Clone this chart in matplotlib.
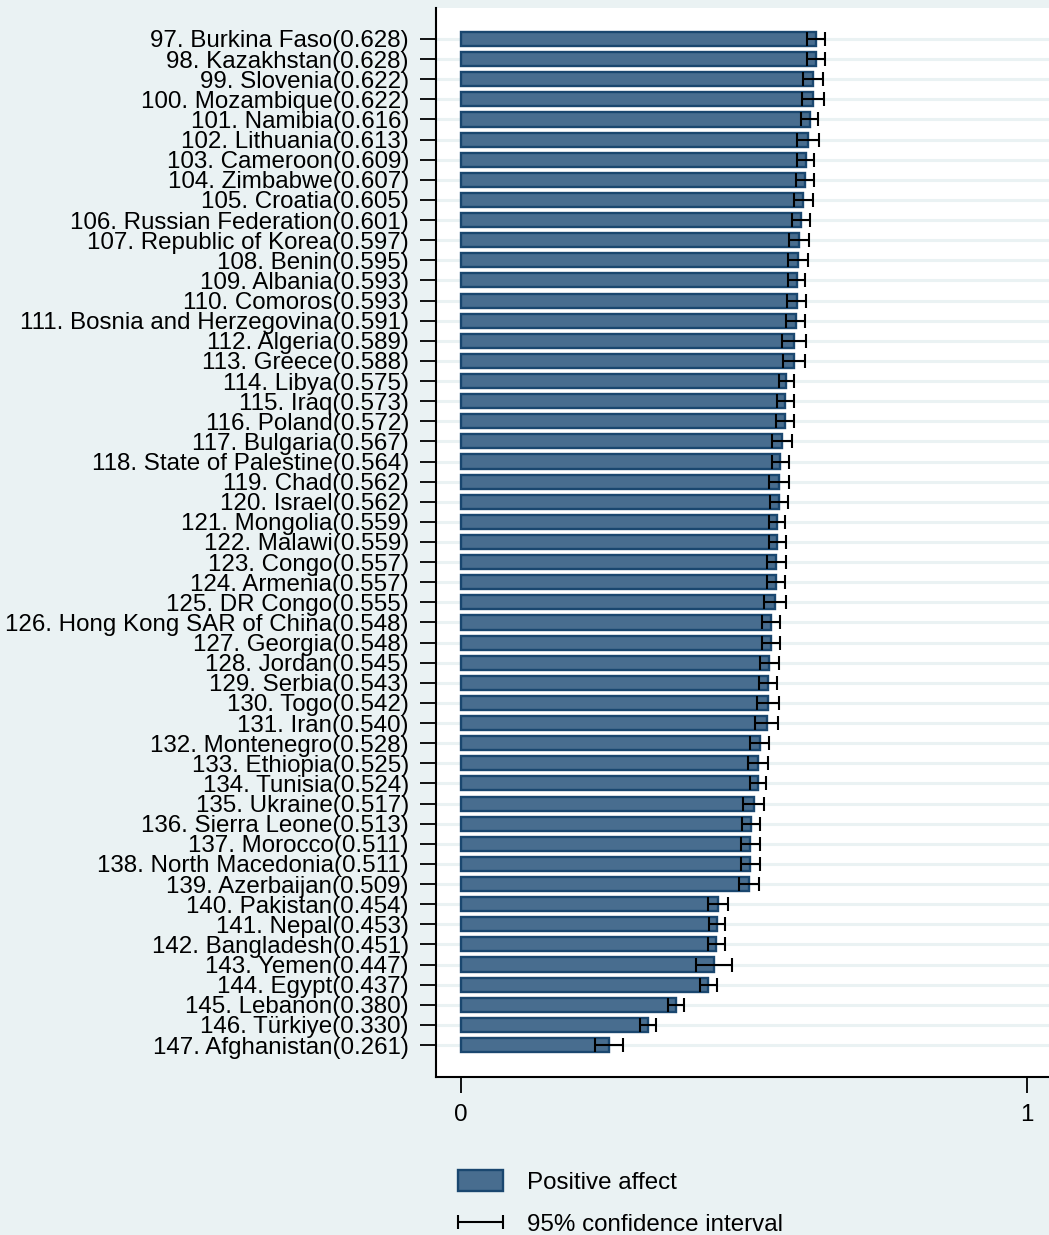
import matplotlib.pyplot as plt
from matplotlib.legend_handler import HandlerErrorbar
import numpy as np

# ranks, countries, values and 95% CI bounds
ranks = list(range(97, 148))
countries = ["Burkina Faso", "Kazakhstan", "Slovenia", "Mozambique", "Namibia",
             "Lithuania", "Cameroon", "Zimbabwe", "Croatia", "Russian Federation",
             "Republic of Korea", "Benin", "Albania", "Comoros",
             "Bosnia and Herzegovina", "Algeria", "Greece", "Libya", "Iraq",
             "Poland", "Bulgaria", "State of Palestine", "Chad", "Israel",
             "Mongolia", "Malawi", "Congo", "Armenia", "DR Congo",
             "Hong Kong SAR of China", "Georgia", "Jordan", "Serbia", "Togo",
             "Iran", "Montenegro", "Ethiopia", "Tunisia", "Ukraine",
             "Sierra Leone", "Morocco", "North Macedonia", "Azerbaijan",
             "Pakistan", "Nepal", "Bangladesh", "Yemen", "Egypt", "Lebanon",
             "Türkiye", "Afghanistan"]
values = [0.628, 0.628, 0.622, 0.622, 0.616, 0.613, 0.609, 0.607, 0.605, 0.601,
          0.597, 0.595, 0.593, 0.593, 0.591, 0.589, 0.588, 0.575, 0.573, 0.572,
          0.567, 0.564, 0.562, 0.562, 0.559, 0.559, 0.557, 0.557, 0.555, 0.548,
          0.548, 0.545, 0.543, 0.542, 0.540, 0.528, 0.525, 0.524, 0.517, 0.513,
          0.511, 0.511, 0.509, 0.454, 0.453, 0.451, 0.447, 0.437, 0.380, 0.330,
          0.261]
ci_low = [0.612, 0.612, 0.605, 0.603, 0.601, 0.594, 0.594, 0.591, 0.588, 0.585,
          0.580, 0.577, 0.578, 0.576, 0.574, 0.568, 0.569, 0.562, 0.558, 0.556,
          0.550, 0.549, 0.544, 0.546, 0.545, 0.544, 0.540, 0.541, 0.535, 0.532,
          0.532, 0.529, 0.527, 0.523, 0.520, 0.511, 0.507, 0.510, 0.499, 0.497,
          0.494, 0.494, 0.491, 0.436, 0.439, 0.436, 0.415, 0.422, 0.366, 0.316,
          0.236]
ci_high = [0.644, 0.644, 0.639, 0.641, 0.631, 0.632, 0.624, 0.623, 0.622, 0.617,
           0.614, 0.613, 0.608, 0.610, 0.608, 0.610, 0.607, 0.589, 0.588, 0.588,
           0.584, 0.579, 0.580, 0.578, 0.573, 0.574, 0.574, 0.573, 0.575, 0.564,
           0.564, 0.561, 0.559, 0.561, 0.560, 0.545, 0.543, 0.538, 0.535, 0.529,
           0.528, 0.528, 0.527, 0.472, 0.467, 0.467, 0.479, 0.452, 0.394, 0.344,
           0.286]

labels = [f"{r}. {c}({v:.3f})" for r, c, v in zip(ranks, countries, values)]

bg = "#EAF2F3"
fs = 17.4
plt.rcParams['font.family'] = ['Liberation Sans', 'DejaVu Sans']

fig = plt.figure(figsize=(10.49, 12.35), dpi=100, facecolor=bg)
ax = fig.add_axes([436 / 1049, 1 - 1077 / 1235, 1 - 436 / 1049, (1077 - 8) / 1235])
ax.set_facecolor("white")

y = np.arange(len(values))
vals = np.array(values)
xerr = np.array([vals - np.array(ci_low), np.array(ci_high) - vals])

# light row grid lines
for yy in y:
    ax.axhline(yy, color=bg, lw=2.2, zorder=0)

bars = ax.barh(y, vals, height=0.7, color="#486d8f", edgecolor="#1a476f",
               linewidth=1.7, zorder=2, label="Positive affect")
eb = ax.errorbar(vals, y, xerr=xerr, fmt="none", ecolor="black", elinewidth=1.5,
                 capsize=4.8, capthick=1.5, zorder=3, label="95% confidence interval")

ax.set_ylim(len(values) - 1 + 1.59, -1.54)
ax.set_xlim(-0.0442, 1.0389)
ax.set_yticks(y)
ax.set_yticklabels(labels, fontsize=fs)
ax.set_xticks([0, 1])
ax.set_xticklabels(["0", "1"], fontsize=fs)
ax.tick_params(axis="y", length=11.5, width=1.3, pad=8)
ax.tick_params(axis="x", length=11.5, width=1.3, pad=8)

for s in ["top", "right"]:
    ax.spines[s].set_visible(False)
for s in ["left", "bottom"]:
    ax.spines[s].set_linewidth(1.5)

fig.legend(handles=[bars, eb], loc="upper left",
           bbox_to_anchor=(458 / 1049, 1 - 1170 / 1235), frameon=False,
           fontsize=fs, handlelength=1.87, handleheight=0.95,
           handletextpad=1.0, labelspacing=0.78, borderpad=0, borderaxespad=0,
           handler_map={type(eb): HandlerErrorbar(xerr_size=0.93, yerr_size=0.4)})

fig.savefig("out.png", dpi=100, facecolor=bg)
